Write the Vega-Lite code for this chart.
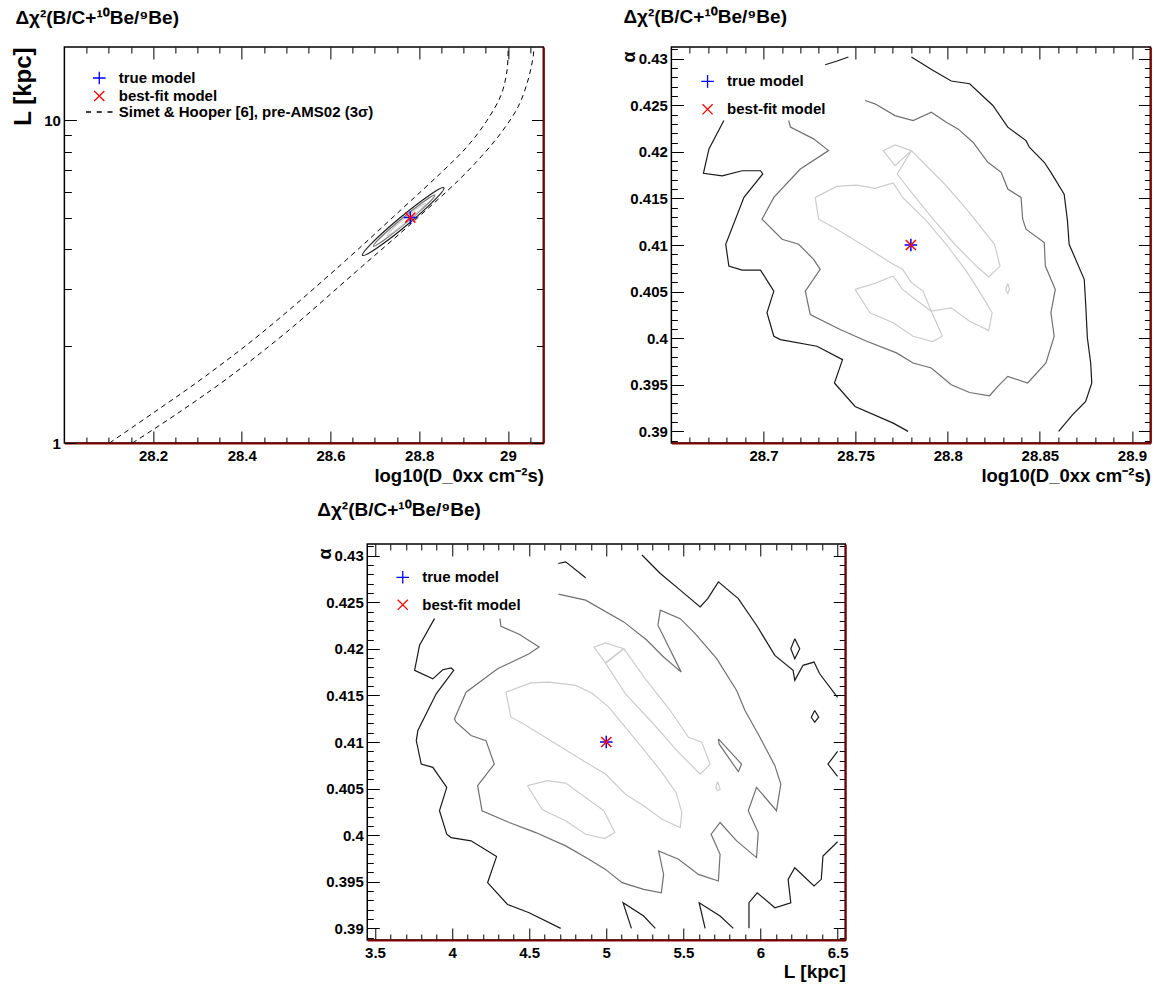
{
"$schema":"https://vega.github.io/schema/vega-lite/v6.json",
"padding":{"left":10,"top":7,"right":0,"bottom":0},
"background":"white",
"spacing":14,
"center":true,
"config":{
 "view":{"stroke":"black","strokeWidth":1.5},
 "axis":{"grid":false,"domain":false,"labelFont":"Liberation Sans","labelFontWeight":"bold","labelFontSize":15,"labelColor":"black","titleFont":"Liberation Sans","titleFontWeight":"bold","titleColor":"black","tickColor":"black","tickWidth":1,"labelOverlap":false,"labelFlush":false,"labelBound":false},
 "legend":{"labelFont":"Liberation Sans","labelFontWeight":"bold","labelFontSize":15,"labelColor":"black","labelLimit":0},
 "title":{"font":"Liberation Sans","fontWeight":"bold","fontSize":19,"color":"black","anchor":"start","frame":"group","baseline":"bottom","offset":19}
},
"datasets":{
"p1m":[{"m":"true model","x":28.78,"y":5},{"m":"best-fit model","x":28.78,"y":5}],
"p2m":[{"m":"true model","x":28.78,"y":0.41},{"m":"best-fit model","x":28.78,"y":0.41}],
"p3m":[{"m":"true model","x":5,"y":0.41},{"m":"best-fit model","x":5,"y":0.41}],
"p1c":[
{"g":"o","lev":"outer","i":1,"x":28.8559,"y":6.186},{"g":"o","lev":"outer","i":2,"x":28.834,"y":5.652},{"g":"o","lev":"outer","i":3,"x":28.7712,"y":4.727},{"g":"o","lev":"outer","i":4,"x":28.7041,"y":4.019},{"g":"o","lev":"outer","i":5,"x":28.6721,"y":3.818},{"g":"o","lev":"outer","i":6,"x":28.6939,"y":4.176},{"g":"o","lev":"outer","i":7,"x":28.7568,"y":4.994},{"g":"o","lev":"outer","i":8,"x":28.8239,"y":5.878},
{"g":"m","lev":"middle","i":1,"x":28.8356,"y":5.873},{"g":"m","lev":"middle","i":2,"x":28.8185,"y":5.506},{"g":"m","lev":"middle","i":3,"x":28.7705,"y":4.815},{"g":"m","lev":"middle","i":4,"x":28.7203,"y":4.254},{"g":"m","lev":"middle","i":5,"x":28.6968,"y":4.078},{"g":"m","lev":"middle","i":6,"x":28.714,"y":4.352},{"g":"m","lev":"middle","i":7,"x":28.7619,"y":4.976},{"g":"m","lev":"middle","i":8,"x":28.8122,"y":5.632},
{"g":"l","lev":"inner","i":1,"x":28.8142,"y":5.526},{"g":"l","lev":"inner","i":2,"x":28.8034,"y":5.303},{"g":"l","lev":"inner","i":3,"x":28.7736,"y":4.878},{"g":"l","lev":"inner","i":4,"x":28.7421,"y":4.513},{"g":"l","lev":"inner","i":5,"x":28.7275,"y":4.399},{"g":"l","lev":"inner","i":6,"x":28.7381,"y":4.584},{"g":"l","lev":"inner","i":7,"x":28.7678,"y":4.983},{"g":"l","lev":"inner","i":8,"x":28.7993,"y":5.387}
],
"p1d":[
{"g":"d1","i":1,"x":28.1018,"y":1.0},{"g":"d1","i":2,"x":28.1964,"y":1.229},{"g":"d1","i":3,"x":28.309,"y":1.578},{"g":"d1","i":4,"x":28.4441,"y":2.189},{"g":"d1","i":5,"x":28.6243,"y":3.579},{"g":"d1","i":6,"x":28.7595,"y":5.294},{"g":"d1","i":7,"x":28.8495,"y":6.891},{"g":"d1","i":8,"x":28.9059,"y":8.234},{"g":"d1","i":9,"x":28.9509,"y":9.908},{"g":"d1","i":10,"x":28.9847,"y":12.01},{"g":"d1","i":11,"x":28.9982,"y":14.35},{"g":"d1","i":12,"x":29.0005,"y":16.9},
{"g":"d2","i":1,"x":28.1536,"y":1.0},{"g":"d2","i":2,"x":28.2527,"y":1.229},{"g":"d2","i":3,"x":28.3653,"y":1.578},{"g":"d2","i":4,"x":28.5005,"y":2.205},{"g":"d2","i":5,"x":28.6581,"y":3.404},{"g":"d2","i":6,"x":28.782,"y":4.792},{"g":"d2","i":7,"x":28.8901,"y":6.555},{"g":"d2","i":8,"x":28.9396,"y":7.72},{"g":"d2","i":9,"x":28.9847,"y":9.16},{"g":"d2","i":10,"x":29.023,"y":11.03},{"g":"d2","i":11,"x":29.0455,"y":13.36},{"g":"d2","i":12,"x":29.0568,"y":15.74},{"g":"d2","i":13,"x":29.059,"y":16.9}
],
"p2c":[
{"g":"b1","lev":"outer","i":1,"x":28.6785,"y":0.42336},{"g":"b1","lev":"outer","i":2,"x":28.6704,"y":0.42031},{"g":"b1","lev":"outer","i":3,"x":28.6674,"y":0.41769},{"g":"b1","lev":"outer","i":4,"x":28.6776,"y":0.41743},{"g":"b1","lev":"outer","i":5,"x":28.6884,"y":0.41797},{"g":"b1","lev":"outer","i":6,"x":28.6984,"y":0.41797},{"g":"b1","lev":"outer","i":7,"x":28.6996,"y":0.41762},{"g":"b1","lev":"outer","i":8,"x":28.6894,"y":0.41511},{"g":"b1","lev":"outer","i":9,"x":28.6795,"y":0.41008},{"g":"b1","lev":"outer","i":10,"x":28.6812,"y":0.40774},{"g":"b1","lev":"outer","i":11,"x":28.6884,"y":0.40731},{"g":"b1","lev":"outer","i":12,"x":28.6984,"y":0.40731},{"g":"b1","lev":"outer","i":13,"x":28.7056,"y":0.40505},{"g":"b1","lev":"outer","i":14,"x":28.7019,"y":0.40273},{"g":"b1","lev":"outer","i":15,"x":28.7056,"y":0.40021},{"g":"b1","lev":"outer","i":16,"x":28.7092,"y":0.39985},{"g":"b1","lev":"outer","i":17,"x":28.729,"y":0.39913},{"g":"b1","lev":"outer","i":18,"x":28.7429,"y":0.3977},{"g":"b1","lev":"outer","i":19,"x":28.7385,"y":0.39519},{"g":"b1","lev":"outer","i":20,"x":28.7497,"y":0.39267},{"g":"b1","lev":"outer","i":21,"x":28.7704,"y":0.39088},{"g":"b1","lev":"outer","i":22,"x":28.7785,"y":0.39},
{"g":"b2","lev":"outer","i":1,"x":28.7335,"y":0.42935},{"g":"b2","lev":"outer","i":2,"x":28.74,"y":0.42975},{"g":"b2","lev":"outer","i":3,"x":28.7461,"y":0.43018},
{"g":"b3","lev":"outer","i":1,"x":28.7803,"y":0.43018},{"g":"b3","lev":"outer","i":2,"x":28.7921,"y":0.42874},{"g":"b3","lev":"outer","i":3,"x":28.8019,"y":0.4276},{"g":"b3","lev":"outer","i":4,"x":28.8119,"y":0.42731},{"g":"b3","lev":"outer","i":5,"x":28.8245,"y":0.42497},{"g":"b3","lev":"outer","i":6,"x":28.8326,"y":0.42265},{"g":"b3","lev":"outer","i":7,"x":28.8425,"y":0.4212},{"g":"b3","lev":"outer","i":8,"x":28.8443,"y":0.42049},{"g":"b3","lev":"outer","i":9,"x":28.8524,"y":0.41888},{"g":"b3","lev":"outer","i":10,"x":28.856,"y":0.4178},{"g":"b3","lev":"outer","i":11,"x":28.8632,"y":0.41546},{"g":"b3","lev":"outer","i":12,"x":28.865,"y":0.41259},{"g":"b3","lev":"outer","i":13,"x":28.8659,"y":0.41008},{"g":"b3","lev":"outer","i":14,"x":28.8741,"y":0.40631},{"g":"b3","lev":"outer","i":15,"x":28.8749,"y":0.40362},{"g":"b3","lev":"outer","i":16,"x":28.8758,"y":0.40003},{"g":"b3","lev":"outer","i":17,"x":28.8776,"y":0.39734},{"g":"b3","lev":"outer","i":18,"x":28.8782,"y":0.39519},{"g":"b3","lev":"outer","i":19,"x":28.8749,"y":0.39321},{"g":"b3","lev":"outer","i":20,"x":28.8677,"y":0.39177},{"g":"b3","lev":"outer","i":21,"x":28.8602,"y":0.39},
{"g":"m1","lev":"middle","i":1,"x":28.7137,"y":0.42336},{"g":"m1","lev":"middle","i":2,"x":28.7146,"y":0.42265},{"g":"m1","lev":"middle","i":3,"x":28.7272,"y":0.42139},{"g":"m1","lev":"middle","i":4,"x":28.7353,"y":0.42013},{"g":"m1","lev":"middle","i":5,"x":28.72,"y":0.41816},{"g":"m1","lev":"middle","i":6,"x":28.7056,"y":0.41511},{"g":"m1","lev":"middle","i":7,"x":28.6992,"y":0.41277},{"g":"m1","lev":"middle","i":8,"x":28.7101,"y":0.41062},{"g":"m1","lev":"middle","i":9,"x":28.7191,"y":0.41008},{"g":"m1","lev":"middle","i":10,"x":28.7272,"y":0.40846},{"g":"m1","lev":"middle","i":11,"x":28.7308,"y":0.40739},{"g":"m1","lev":"middle","i":12,"x":28.7227,"y":0.40505},{"g":"m1","lev":"middle","i":13,"x":28.7254,"y":0.40254},{"g":"m1","lev":"middle","i":14,"x":28.7416,"y":0.40093},{"g":"m1","lev":"middle","i":15,"x":28.756,"y":0.39967},{"g":"m1","lev":"middle","i":16,"x":28.7722,"y":0.39842},{"g":"m1","lev":"middle","i":17,"x":28.7812,"y":0.39734},{"g":"m1","lev":"middle","i":18,"x":28.7911,"y":0.3968},{"g":"m1","lev":"middle","i":19,"x":28.8019,"y":0.395},{"g":"m1","lev":"middle","i":20,"x":28.8119,"y":0.39417},{"g":"m1","lev":"middle","i":21,"x":28.8227,"y":0.39382},{"g":"m1","lev":"middle","i":22,"x":28.8272,"y":0.39482},{"g":"m1","lev":"middle","i":23,"x":28.8326,"y":0.3959},{"g":"m1","lev":"middle","i":24,"x":28.8434,"y":0.39519},{"g":"m1","lev":"middle","i":25,"x":28.8533,"y":0.39734},{"g":"m1","lev":"middle","i":26,"x":28.8578,"y":0.40021},{"g":"m1","lev":"middle","i":27,"x":28.856,"y":0.40273},{"g":"m1","lev":"middle","i":28,"x":28.8584,"y":0.40523},{"g":"m1","lev":"middle","i":29,"x":28.853,"y":0.40774},{"g":"m1","lev":"middle","i":30,"x":28.8524,"y":0.41026},{"g":"m1","lev":"middle","i":31,"x":28.8425,"y":0.41169},{"g":"m1","lev":"middle","i":32,"x":28.8407,"y":0.41277},{"g":"m1","lev":"middle","i":33,"x":28.8398,"y":0.41511},{"g":"m1","lev":"middle","i":34,"x":28.8326,"y":0.416},{"g":"m1","lev":"middle","i":35,"x":28.829,"y":0.4178},{"g":"m1","lev":"middle","i":36,"x":28.8218,"y":0.41888},{"g":"m1","lev":"middle","i":37,"x":28.8137,"y":0.42103},{"g":"m1","lev":"middle","i":38,"x":28.8056,"y":0.42246},{"g":"m1","lev":"middle","i":39,"x":28.7992,"y":0.42318},{"g":"m1","lev":"middle","i":40,"x":28.7911,"y":0.42426},{"g":"m1","lev":"middle","i":41,"x":28.7812,"y":0.42336},{"g":"m1","lev":"middle","i":42,"x":28.7714,"y":0.42389},{"g":"m1","lev":"middle","i":43,"x":28.7605,"y":0.42515},{"g":"m1","lev":"middle","i":44,"x":28.7551,"y":0.42551},
{"g":"l1","lev":"inner","i":1,"x":28.7803,"y":0.42013},{"g":"l1","lev":"inner","i":2,"x":28.7726,"y":0.41762},{"g":"l1","lev":"inner","i":3,"x":28.7803,"y":0.41565},{"g":"l1","lev":"inner","i":4,"x":28.7921,"y":0.41277},{"g":"l1","lev":"inner","i":5,"x":28.8038,"y":0.41008},{"g":"l1","lev":"inner","i":6,"x":28.8155,"y":0.40774},{"g":"l1","lev":"inner","i":7,"x":28.8223,"y":0.40656},{"g":"l1","lev":"inner","i":8,"x":28.8284,"y":0.40774},{"g":"l1","lev":"inner","i":9,"x":28.8254,"y":0.41008},{"g":"l1","lev":"inner","i":10,"x":28.811,"y":0.41367},{"g":"l1","lev":"inner","i":11,"x":28.7992,"y":0.41636},{"g":"l1","lev":"inner","i":12,"x":28.7884,"y":0.41851},{"g":"l1","lev":"inner","i":13,"x":28.7803,"y":0.42013},
{"g":"l2","lev":"inner","i":1,"x":28.7803,"y":0.42013},{"g":"l2","lev":"inner","i":2,"x":28.7714,"y":0.42074},{"g":"l2","lev":"inner","i":3,"x":28.765,"y":0.42013},{"g":"l2","lev":"inner","i":4,"x":28.7714,"y":0.41851},{"g":"l2","lev":"inner","i":5,"x":28.7803,"y":0.42013},
{"g":"l3","lev":"inner","i":1,"x":28.7281,"y":0.41511},{"g":"l3","lev":"inner","i":2,"x":28.7398,"y":0.41629},{"g":"l3","lev":"inner","i":3,"x":28.7506,"y":0.41643},{"g":"l3","lev":"inner","i":4,"x":28.7605,"y":0.41608},{"g":"l3","lev":"inner","i":5,"x":28.7704,"y":0.41665},{"g":"l3","lev":"inner","i":6,"x":28.7755,"y":0.41511},{"g":"l3","lev":"inner","i":7,"x":28.7884,"y":0.41259},{"g":"l3","lev":"inner","i":8,"x":28.7992,"y":0.41008},{"g":"l3","lev":"inner","i":9,"x":28.8101,"y":0.4072},{"g":"l3","lev":"inner","i":10,"x":28.8182,"y":0.4047},{"g":"l3","lev":"inner","i":11,"x":28.8241,"y":0.40273},{"g":"l3","lev":"inner","i":12,"x":28.8223,"y":0.40082},{"g":"l3","lev":"inner","i":13,"x":28.8119,"y":0.40182},{"g":"l3","lev":"inner","i":14,"x":28.8019,"y":0.40326},{"g":"l3","lev":"inner","i":15,"x":28.7911,"y":0.4029},{"g":"l3","lev":"inner","i":16,"x":28.7866,"y":0.40505},{"g":"l3","lev":"inner","i":17,"x":28.7803,"y":0.40596},{"g":"l3","lev":"inner","i":18,"x":28.7755,"y":0.40739},{"g":"l3","lev":"inner","i":19,"x":28.7704,"y":0.40793},{"g":"l3","lev":"inner","i":20,"x":28.756,"y":0.40972},{"g":"l3","lev":"inner","i":21,"x":28.7398,"y":0.41169},{"g":"l3","lev":"inner","i":22,"x":28.7299,"y":0.41277},{"g":"l3","lev":"inner","i":23,"x":28.7281,"y":0.41511},
{"g":"l4","lev":"inner","i":1,"x":28.7497,"y":0.40523},{"g":"l4","lev":"inner","i":2,"x":28.7605,"y":0.40588},{"g":"l4","lev":"inner","i":3,"x":28.7704,"y":0.40667},{"g":"l4","lev":"inner","i":4,"x":28.7755,"y":0.40523},{"g":"l4","lev":"inner","i":5,"x":28.7812,"y":0.40434},{"g":"l4","lev":"inner","i":6,"x":28.7911,"y":0.4029},{"g":"l4","lev":"inner","i":7,"x":28.7971,"y":0.40021},{"g":"l4","lev":"inner","i":8,"x":28.7917,"y":0.39963},{"g":"l4","lev":"inner","i":9,"x":28.7812,"y":0.40021},{"g":"l4","lev":"inner","i":10,"x":28.7704,"y":0.40165},{"g":"l4","lev":"inner","i":11,"x":28.7578,"y":0.40273},{"g":"l4","lev":"inner","i":12,"x":28.7497,"y":0.40523},
{"g":"l5","lev":"inner","i":1,"x":28.8326,"y":0.40588},{"g":"l5","lev":"inner","i":2,"x":28.8335,"y":0.40523},{"g":"l5","lev":"inner","i":3,"x":28.8326,"y":0.4048},{"g":"l5","lev":"inner","i":4,"x":28.8314,"y":0.40523},{"g":"l5","lev":"inner","i":5,"x":28.8326,"y":0.40588}
],
"p3c":[
{"g":"a","lev":"outer","i":1,"x":3.886,"y":0.42324},{"g":"a","lev":"outer","i":2,"x":3.7891,"y":0.42038},{"g":"a","lev":"outer","i":3,"x":3.7568,"y":0.41769},{"g":"a","lev":"outer","i":4,"x":3.8751,"y":0.41678},{"g":"a","lev":"outer","i":5,"x":3.9397,"y":0.41775},{"g":"a","lev":"outer","i":6,"x":3.9939,"y":0.41794},{"g":"a","lev":"outer","i":7,"x":4.0107,"y":0.41769},{"g":"a","lev":"outer","i":8,"x":3.897,"y":0.41517},{"g":"a","lev":"outer","i":9,"x":3.7782,"y":0.41123},{"g":"a","lev":"outer","i":10,"x":3.7678,"y":0.41015},{"g":"a","lev":"outer","i":11,"x":3.8001,"y":0.40763},{"g":"a","lev":"outer","i":12,"x":3.8751,"y":0.40728},{"g":"a","lev":"outer","i":13,"x":3.9655,"y":0.40513},{"g":"a","lev":"outer","i":14,"x":3.9183,"y":0.40262},{"g":"a","lev":"outer","i":15,"x":3.9655,"y":0.4001},{"g":"a","lev":"outer","i":16,"x":3.9939,"y":0.39974},{"g":"a","lev":"outer","i":17,"x":4.1231,"y":0.39939},{"g":"a","lev":"outer","i":18,"x":4.2885,"y":0.3977},{"g":"a","lev":"outer","i":19,"x":4.2304,"y":0.3949},{"g":"a","lev":"outer","i":20,"x":4.3596,"y":0.39256},{"g":"a","lev":"outer","i":21,"x":4.4997,"y":0.39167},{"g":"a","lev":"outer","i":22,"x":4.7045,"y":0.39},
{"g":"b","lev":"outer","i":1,"x":4.689,"y":0.42916},{"g":"b","lev":"outer","i":2,"x":4.7368,"y":0.42934},{"g":"b","lev":"outer","i":3,"x":4.866,"y":0.42762},
{"g":"c","lev":"outer","i":1,"x":5.2316,"y":0.43007},{"g":"c","lev":"outer","i":2,"x":5.3505,"y":0.42809},{"g":"c","lev":"outer","i":3,"x":5.4797,"y":0.4263},{"g":"c","lev":"outer","i":4,"x":5.6089,"y":0.4245},{"g":"c","lev":"outer","i":5,"x":5.658,"y":0.42539},{"g":"c","lev":"outer","i":6,"x":5.7271,"y":0.42719},{"g":"c","lev":"outer","i":7,"x":5.8563,"y":0.42539},{"g":"c","lev":"outer","i":8,"x":5.9745,"y":0.42253},{"g":"c","lev":"outer","i":9,"x":6.0934,"y":0.4193},{"g":"c","lev":"outer","i":10,"x":6.2116,"y":0.41769},{"g":"c","lev":"outer","i":11,"x":6.2226,"y":0.41661},{"g":"c","lev":"outer","i":12,"x":6.2762,"y":0.41823},{"g":"c","lev":"outer","i":13,"x":6.3473,"y":0.41858},{"g":"c","lev":"outer","i":14,"x":6.3841,"y":0.41732},{"g":"c","lev":"outer","i":15,"x":6.5,"y":0.4148},
{"g":"d","lev":"outer","i":1,"x":6.5,"y":0.409},{"g":"d","lev":"outer","i":2,"x":6.4377,"y":0.40763},{"g":"d","lev":"outer","i":3,"x":6.5,"y":0.4063},
{"g":"e","lev":"outer","i":1,"x":6.5,"y":0.3993},{"g":"e","lev":"outer","i":2,"x":6.4054,"y":0.39777},{"g":"e","lev":"outer","i":3,"x":6.3945,"y":0.39526},{"g":"e","lev":"outer","i":4,"x":6.3473,"y":0.39455},{"g":"e","lev":"outer","i":5,"x":6.2226,"y":0.39651},{"g":"e","lev":"outer","i":6,"x":6.1793,"y":0.39526},{"g":"e","lev":"outer","i":7,"x":6.1968,"y":0.39275},{"g":"e","lev":"outer","i":8,"x":6.0934,"y":0.39221},{"g":"e","lev":"outer","i":9,"x":5.9791,"y":0.39382},{"g":"e","lev":"outer","i":10,"x":5.9254,"y":0.39275},{"g":"e","lev":"outer","i":11,"x":5.9254,"y":0.39},
{"g":"f","lev":"outer","i":1,"x":6.2226,"y":0.42109},{"g":"f","lev":"outer","i":2,"x":6.2549,"y":0.42001},{"g":"f","lev":"outer","i":3,"x":6.2226,"y":0.41894},{"g":"f","lev":"outer","i":4,"x":6.1968,"y":0.42001},{"g":"f","lev":"outer","i":5,"x":6.2226,"y":0.42109},
{"g":"h","lev":"outer","i":1,"x":6.3518,"y":0.41338},{"g":"h","lev":"outer","i":2,"x":6.3777,"y":0.41266},{"g":"h","lev":"outer","i":3,"x":6.3518,"y":0.41212},{"g":"h","lev":"outer","i":4,"x":6.3298,"y":0.41266},{"g":"h","lev":"outer","i":5,"x":6.3518,"y":0.41338},
{"g":"j","lev":"outer","i":1,"x":5.1632,"y":0.39},{"g":"j","lev":"outer","i":2,"x":5.1089,"y":0.39275},{"g":"j","lev":"outer","i":3,"x":5.2426,"y":0.39132},{"g":"j","lev":"outer","i":4,"x":5.3182,"y":0.39},
{"g":"k","lev":"outer","i":1,"x":5.6412,"y":0.39},{"g":"k","lev":"outer","i":2,"x":5.6024,"y":0.39275},{"g":"k","lev":"outer","i":3,"x":5.7381,"y":0.39132},{"g":"k","lev":"outer","i":4,"x":5.824,"y":0.39},
{"g":"m","lev":"middle","i":1,"x":4.689,"y":0.42587},{"g":"m","lev":"middle","i":2,"x":4.866,"y":0.42522},{"g":"m","lev":"middle","i":3,"x":5.1134,"y":0.42289},{"g":"m","lev":"middle","i":4,"x":5.264,"y":0.42092},{"g":"m","lev":"middle","i":5,"x":5.3718,"y":0.41912},{"g":"m","lev":"middle","i":6,"x":5.4862,"y":0.4175},{"g":"m","lev":"middle","i":7,"x":5.335,"y":0.42253},{"g":"m","lev":"middle","i":8,"x":5.3505,"y":0.42415},{"g":"m","lev":"middle","i":9,"x":5.4797,"y":0.42324},{"g":"m","lev":"middle","i":10,"x":5.5766,"y":0.42163},{"g":"m","lev":"middle","i":11,"x":5.7162,"y":0.41894},{"g":"m","lev":"middle","i":12,"x":5.8454,"y":0.41553},{"g":"m","lev":"middle","i":13,"x":5.8996,"y":0.41338},{"g":"m","lev":"middle","i":14,"x":5.9965,"y":0.41051},{"g":"m","lev":"middle","i":15,"x":6.0934,"y":0.40746},{"g":"m","lev":"middle","i":16,"x":6.1322,"y":0.40548},{"g":"m","lev":"middle","i":17,"x":6.1038,"y":0.40262},{"g":"m","lev":"middle","i":18,"x":5.9745,"y":0.40513},{"g":"m","lev":"middle","i":19,"x":5.9209,"y":0.40262},{"g":"m","lev":"middle","i":20,"x":5.9855,"y":0.40028},{"g":"m","lev":"middle","i":21,"x":5.9745,"y":0.39759},{"g":"m","lev":"middle","i":22,"x":5.8454,"y":0.39939},{"g":"m","lev":"middle","i":23,"x":5.7381,"y":0.40136},{"g":"m","lev":"middle","i":24,"x":5.68,"y":0.4001},{"g":"m","lev":"middle","i":25,"x":5.7381,"y":0.39795},{"g":"m","lev":"middle","i":26,"x":5.7271,"y":0.39508},{"g":"m","lev":"middle","i":27,"x":5.5979,"y":0.39579},{"g":"m","lev":"middle","i":28,"x":5.4687,"y":0.39741},{"g":"m","lev":"middle","i":29,"x":5.3395,"y":0.39831},{"g":"m","lev":"middle","i":30,"x":5.3718,"y":0.39579},{"g":"m","lev":"middle","i":31,"x":5.357,"y":0.39382},{"g":"m","lev":"middle","i":32,"x":5.2426,"y":0.39418},{"g":"m","lev":"middle","i":33,"x":5.1024,"y":0.3949},{"g":"m","lev":"middle","i":34,"x":4.9952,"y":0.39633},{"g":"m","lev":"middle","i":35,"x":4.8873,"y":0.39741},{"g":"m","lev":"middle","i":36,"x":4.7368,"y":0.39885},{"g":"m","lev":"middle","i":37,"x":4.543,"y":0.40028},{"g":"m","lev":"middle","i":38,"x":4.3705,"y":0.40136},{"g":"m","lev":"middle","i":39,"x":4.1942,"y":0.40262},{"g":"m","lev":"middle","i":40,"x":4.1658,"y":0.40531},{"g":"m","lev":"middle","i":41,"x":4.2736,"y":0.40763},{"g":"m","lev":"middle","i":42,"x":4.22,"y":0.41015},{"g":"m","lev":"middle","i":43,"x":4.1231,"y":0.41069},{"g":"m","lev":"middle","i":44,"x":4.0262,"y":0.41212},{"g":"m","lev":"middle","i":45,"x":4.0152,"y":0.41248},{"g":"m","lev":"middle","i":46,"x":4.0908,"y":0.41535},{"g":"m","lev":"middle","i":47,"x":4.295,"y":0.41786},{"g":"m","lev":"middle","i":48,"x":4.4997,"y":0.41947},{"g":"m","lev":"middle","i":49,"x":4.5643,"y":0.4202},{"g":"m","lev":"middle","i":50,"x":4.4351,"y":0.42156},{"g":"m","lev":"middle","i":51,"x":4.3169,"y":0.42242},{"g":"m","lev":"middle","i":52,"x":4.3105,"y":0.42324},
{"g":"s","lev":"middle","i":1,"x":5.7271,"y":0.41033},{"g":"s","lev":"middle","i":2,"x":5.8776,"y":0.40763},{"g":"s","lev":"middle","i":3,"x":5.8563,"y":0.40682},{"g":"s","lev":"middle","i":4,"x":5.7316,"y":0.40979},{"g":"s","lev":"middle","i":5,"x":5.7271,"y":0.41033},
{"g":"q","lev":"inner","i":1,"x":4.9196,"y":0.4202},{"g":"q","lev":"inner","i":2,"x":4.9952,"y":0.42063},{"g":"q","lev":"inner","i":3,"x":5.1134,"y":0.42001},{"g":"q","lev":"inner","i":4,"x":4.9952,"y":0.41847},{"g":"q","lev":"inner","i":5,"x":4.9196,"y":0.4202},
{"g":"r","lev":"inner","i":1,"x":4.9952,"y":0.41847},{"g":"r","lev":"inner","i":2,"x":5.1134,"y":0.42001},{"g":"r","lev":"inner","i":3,"x":5.2536,"y":0.41678},{"g":"r","lev":"inner","i":4,"x":5.4151,"y":0.41338},{"g":"r","lev":"inner","i":5,"x":5.5333,"y":0.41051},{"g":"r","lev":"inner","i":6,"x":5.6192,"y":0.40997},{"g":"r","lev":"inner","i":7,"x":5.6735,"y":0.40763},{"g":"r","lev":"inner","i":8,"x":5.6089,"y":0.40656},{"g":"r","lev":"inner","i":9,"x":5.4687,"y":0.40889},{"g":"r","lev":"inner","i":10,"x":5.2962,"y":0.41212},{"g":"r","lev":"inner","i":11,"x":5.1244,"y":0.41517},{"g":"r","lev":"inner","i":12,"x":4.9952,"y":0.41847},
{"g":"t","lev":"inner","i":1,"x":4.3492,"y":0.41535},{"g":"t","lev":"inner","i":2,"x":4.5107,"y":0.41635},{"g":"t","lev":"inner","i":3,"x":4.6289,"y":0.41643},{"g":"t","lev":"inner","i":4,"x":4.8014,"y":0.41607},{"g":"t","lev":"inner","i":5,"x":4.9087,"y":0.41524},{"g":"t","lev":"inner","i":6,"x":5.0165,"y":0.41374},{"g":"t","lev":"inner","i":7,"x":5.1244,"y":0.41158},{"g":"t","lev":"inner","i":8,"x":5.2316,"y":0.40943},{"g":"t","lev":"inner","i":9,"x":5.3609,"y":0.40674},{"g":"t","lev":"inner","i":10,"x":5.4526,"y":0.40459},{"g":"t","lev":"inner","i":11,"x":5.49,"y":0.40243},{"g":"t","lev":"inner","i":12,"x":5.4797,"y":0.40082},{"g":"t","lev":"inner","i":13,"x":5.3609,"y":0.40171},{"g":"t","lev":"inner","i":14,"x":5.2426,"y":0.40316},{"g":"t","lev":"inner","i":15,"x":5.1244,"y":0.4044},{"g":"t","lev":"inner","i":16,"x":4.9952,"y":0.40656},{"g":"t","lev":"inner","i":17,"x":4.866,"y":0.40782},{"g":"t","lev":"inner","i":18,"x":4.6935,"y":0.40961},{"g":"t","lev":"inner","i":19,"x":4.4461,"y":0.41212},{"g":"t","lev":"inner","i":20,"x":4.3815,"y":0.41266},{"g":"t","lev":"inner","i":21,"x":4.3492,"y":0.41535},
{"g":"u","lev":"inner","i":1,"x":4.4888,"y":0.40531},{"g":"u","lev":"inner","i":2,"x":4.618,"y":0.40585},{"g":"u","lev":"inner","i":3,"x":4.7368,"y":0.40559},{"g":"u","lev":"inner","i":4,"x":4.866,"y":0.40405},{"g":"u","lev":"inner","i":5,"x":4.9842,"y":0.40262},{"g":"u","lev":"inner","i":6,"x":5.0553,"y":0.40028},{"g":"u","lev":"inner","i":7,"x":4.9907,"y":0.39964},{"g":"u","lev":"inner","i":8,"x":4.866,"y":0.4001},{"g":"u","lev":"inner","i":9,"x":4.7368,"y":0.40154},{"g":"u","lev":"inner","i":10,"x":4.5857,"y":0.40273},{"g":"u","lev":"inner","i":11,"x":4.4888,"y":0.40531},
{"g":"v","lev":"inner","i":1,"x":5.7226,"y":0.40574},{"g":"v","lev":"inner","i":2,"x":5.7381,"y":0.40494},{"g":"v","lev":"inner","i":3,"x":5.7226,"y":0.40477},{"g":"v","lev":"inner","i":4,"x":5.7097,"y":0.40513},{"g":"v","lev":"inner","i":5,"x":5.7226,"y":0.40574}
]
},
"resolve":{"scale":{"color":"independent","shape":"independent","stroke":"independent"},"legend":{"color":"independent","shape":"independent"}},
"vconcat":[
{"hconcat":[
{
 "width":479,"height":396,
 "title":{"text":"Δχ²(B/C+¹⁰Be/⁹Be)","dx":-49},
 "layer":[
  {"data":{"name":"p1d"},"mark":{"type":"line","strokeDash":[5,4],"strokeWidth":1,"color":"black","clip":true,"interpolate":"catmull-rom"},
   "encoding":{
    "x":{"field":"x","type":"quantitative","scale":{"domain":[28.0,29.08],"nice":false,"zero":false},"axis":{"orient":"bottom","values":[28.05,28.1,28.15,28.2,28.25,28.3,28.35,28.4,28.45,28.5,28.55,28.6,28.65,28.7,28.75,28.8,28.85,28.9,28.95,29,29.05],"tickSize":{"condition":{"test":"abs(datum.value*5-round(datum.value*5))<0.001","value":-12},"value":-6},"labelExpr":"abs(datum.value*5-round(datum.value*5))<0.001 ? format(datum.value,'.1~f') : ''","labelPadding":17,"title":"log10(D_0xx cm⁻²s)","titleFontSize":18.5,"titleAnchor":"end","titleY":38,"titleBaseline":"alphabetic","domain":true,"domainColor":"#800000","domainWidth":2}},
    "y":{"field":"y","type":"quantitative","scale":{"type":"log","domain":[1,16.9],"nice":false,"zero":false},"axis":{"orient":"left","values":[1,2,3,4,5,6,7,8,9,10],"tickSize":{"condition":{"test":"datum.value==1||datum.value==10","value":-12},"value":-7},"labelExpr":"datum.value==1||datum.value==10 ? format(datum.value,'d') : ''","labelPadding":16,"title":"L [kpc]","titleFontSize":24,"titleAnchor":"end","titleX":-41,"titleY":0,"titleBaseline":"middle"}},
    "detail":{"field":"g"},
    "order":{"field":"i"}
   }},
  {"data":{"name":"p1c"},"mark":{"type":"line","strokeWidth":1.2,"clip":true,"interpolate":"cardinal-closed"},
   "encoding":{
    "x":{"field":"x","type":"quantitative","scale":{"domain":[28.0,29.08],"nice":false,"zero":false},"axis":null},
    "y":{"field":"y","type":"quantitative","scale":{"type":"log","domain":[1,16.9],"nice":false,"zero":false},"axis":null},
    "detail":{"field":"g"},
    "order":{"field":"i"},
    "stroke":{"field":"lev","type":"nominal","scale":{"domain":["inner","middle","outer"],"range":["#cccccc","#707070","#1a1a1a"]},"legend":null}
   }},
  {"data":{"name":"p1m"},"mark":{"type":"point","filled":false,"strokeWidth":1.5,"size":160,"opacity":1},
   "encoding":{
    "x":{"field":"x","type":"quantitative","scale":{"domain":[28.0,29.08],"nice":false,"zero":false},"axis":{"orient":"top","values":[28.05,28.1,28.15,28.2,28.25,28.3,28.35,28.4,28.45,28.5,28.55,28.6,28.65,28.7,28.75,28.8,28.85,28.9,28.95,29,29.05],"tickSize":{"condition":{"test":"abs(datum.value*5-round(datum.value*5))<0.001","value":-12},"value":-6},"labels":false,"title":null}},
    "y":{"field":"y","type":"quantitative","scale":{"type":"log","domain":[1,16.9],"nice":false,"zero":false},"axis":{"orient":"right","values":[1,2,3,4,5,6,7,8,9,10],"tickSize":{"condition":{"test":"datum.value==1||datum.value==10","value":-12},"value":-7},"labels":false,"title":null,"domain":true,"domainColor":"#800000","domainWidth":2}},
    "shape":{"field":"m","type":"nominal","scale":{"domain":["true model","best-fit model","Simet & Hooper [6], pre-AMS02 (3σ)"],"range":["M-1,0L1,0M0,-1L0,1","M-0.8,-0.8L0.8,0.8M-0.8,0.8L0.8,-0.8","M-2.1,0L-1.3,0M-0.4,0L0.4,0M1.3,0L2.1,0"]},"legend":{"title":null,"orient":"none","legendX":27.4,"legendY":23.5,"symbolSize":160,"symbolStrokeWidth":1.3,"rowPadding":0,"labelOffset":12,"padding":0}},
    "color":{"field":"m","type":"nominal","scale":{"domain":["true model","best-fit model","Simet & Hooper [6], pre-AMS02 (3σ)"],"range":["#0000ff","#ff0000","#000000"]},"legend":{"title":null,"orient":"none","legendX":27.4,"legendY":23.5,"symbolSize":160,"symbolStrokeWidth":1.3,"rowPadding":0,"labelOffset":12,"padding":0}}
   }}
 ],
 "resolve":{"axis":{"x":"independent","y":"independent"}}
},
{
 "width":479,"height":396,
 "title":{"text":"Δχ²(B/C+¹⁰Be/⁹Be)","dx":-48,"dy":4},
 "layer":[
  {"data":{"name":"p2c"},"mark":{"type":"line","strokeWidth":1.2,"clip":true},
   "encoding":{
    "x":{"field":"x","type":"quantitative","scale":{"domain":[28.65,28.91],"nice":false,"zero":false},"axis":{"orient":"bottom","values":[28.66,28.67,28.68,28.69,28.7,28.71,28.72,28.73,28.74,28.75,28.76,28.77,28.78,28.79,28.8,28.81,28.82,28.83,28.84,28.85,28.86,28.87,28.88,28.89,28.9],"tickSize":{"condition":{"test":"abs(datum.value*20-round(datum.value*20))<0.001","value":-12},"value":-6},"labelExpr":"abs(datum.value*20-round(datum.value*20))<0.001 ? format(datum.value,'.2~f') : ''","labelPadding":17,"title":"log10(D_0xx cm⁻²s)","titleFontSize":18.5,"titleAnchor":"end","titleY":38,"titleBaseline":"alphabetic","domain":true,"domainColor":"#800000","domainWidth":2}},
    "y":{"field":"y","type":"quantitative","scale":{"domain":[0.38875,0.43125],"nice":false,"zero":false},"axis":{"orient":"left","values":[0.389,0.39,0.391,0.392,0.393,0.394,0.395,0.396,0.397,0.398,0.399,0.4,0.401,0.402,0.403,0.404,0.405,0.406,0.407,0.408,0.409,0.41,0.411,0.412,0.413,0.414,0.415,0.416,0.417,0.418,0.419,0.42,0.421,0.422,0.423,0.424,0.425,0.426,0.427,0.428,0.429,0.43,0.431],"tickSize":{"condition":{"test":"abs(datum.value*200-round(datum.value*200))<0.001","value":-12},"value":-6},"labelExpr":"abs(datum.value*200-round(datum.value*200))<0.001 ? format(datum.value,'.3~f') : ''","labelPadding":16,"title":"α","titleFontSize":18,"titleAnchor":"end","titleX":-42,"titleY":4,"titleBaseline":"middle"}},
    "detail":{"field":"g"},
    "order":{"field":"i"},
    "stroke":{"field":"lev","type":"nominal","scale":{"domain":["inner","middle","outer"],"range":["#cccccc","#707070","#1a1a1a"]},"legend":null}
   }},
  {"data":{"name":"p2m"},"mark":{"type":"point","filled":false,"strokeWidth":1.5,"size":160,"opacity":1},
   "encoding":{
    "x":{"field":"x","type":"quantitative","scale":{"domain":[28.65,28.91],"nice":false,"zero":false},"axis":{"orient":"top","values":[28.66,28.67,28.68,28.69,28.7,28.71,28.72,28.73,28.74,28.75,28.76,28.77,28.78,28.79,28.8,28.81,28.82,28.83,28.84,28.85,28.86,28.87,28.88,28.89,28.9],"tickSize":{"condition":{"test":"abs(datum.value*20-round(datum.value*20))<0.001","value":-12},"value":-6},"labels":false,"title":null}},
    "y":{"field":"y","type":"quantitative","scale":{"domain":[0.38875,0.43125],"nice":false,"zero":false},"axis":{"orient":"right","values":[0.389,0.39,0.391,0.392,0.393,0.394,0.395,0.396,0.397,0.398,0.399,0.4,0.401,0.402,0.403,0.404,0.405,0.406,0.407,0.408,0.409,0.41,0.411,0.412,0.413,0.414,0.415,0.416,0.417,0.418,0.419,0.42,0.421,0.422,0.423,0.424,0.425,0.426,0.427,0.428,0.429,0.43,0.431],"tickSize":{"condition":{"test":"abs(datum.value*200-round(datum.value*200))<0.001","value":-12},"value":-6},"labels":false,"title":null,"domain":true,"domainColor":"#800000","domainWidth":2}},
    "shape":{"field":"m","type":"nominal","scale":{"domain":["true model","best-fit model"],"range":["M-1,0L1,0M0,-1L0,1","M-0.8,-0.8L0.8,0.8M-0.8,0.8L0.8,-0.8"]},"legend":{"title":null,"orient":"none","legendX":28.7,"legendY":26.8,"symbolSize":160,"symbolStrokeWidth":1.3,"rowPadding":10,"labelOffset":12,"padding":0}},
    "color":{"field":"m","type":"nominal","scale":{"domain":["true model","best-fit model"],"range":["#0000ff","#ff0000"]},"legend":{"title":null,"orient":"none","legendX":28.7,"legendY":26.8,"symbolSize":160,"symbolStrokeWidth":1.3,"rowPadding":10,"labelOffset":12,"padding":0}}
   }}
 ],
 "resolve":{"axis":{"x":"independent","y":"independent"}}
}
],
"spacing":128,
"bounds":"flush",
"resolve":{"scale":{"color":"independent","shape":"independent","stroke":"independent"},"legend":{"color":"independent","shape":"independent"}}
},
{
 "width":478,"height":396,
 "title":{"text":"Δχ²(B/C+¹⁰Be/⁹Be)","dx":-50},
 "layer":[
  {"data":{"name":"p3c"},"mark":{"type":"line","strokeWidth":1.2,"clip":true},
   "encoding":{
    "x":{"field":"x","type":"quantitative","scale":{"domain":[3.45,6.55],"nice":false,"zero":false},"axis":{"orient":"bottom","values":[3.5,3.6,3.7,3.8,3.9,4,4.1,4.2,4.3,4.4,4.5,4.6,4.7,4.8,4.9,5,5.1,5.2,5.3,5.4,5.5,5.6,5.7,5.8,5.9,6,6.1,6.2,6.3,6.4,6.5],"tickSize":{"condition":{"test":"abs(datum.value*2-round(datum.value*2))<0.001","value":-12},"value":-6},"labelExpr":"abs(datum.value*2-round(datum.value*2))<0.001 ? format(datum.value,'.1~f') : ''","labelPadding":17,"title":"L [kpc]","titleFontSize":19,"titleAnchor":"end","titleY":37,"titleBaseline":"alphabetic","domain":true,"domainColor":"#800000","domainWidth":2}},
    "y":{"field":"y","type":"quantitative","scale":{"domain":[0.38875,0.43125],"nice":false,"zero":false},"axis":{"orient":"left","values":[0.389,0.39,0.391,0.392,0.393,0.394,0.395,0.396,0.397,0.398,0.399,0.4,0.401,0.402,0.403,0.404,0.405,0.406,0.407,0.408,0.409,0.41,0.411,0.412,0.413,0.414,0.415,0.416,0.417,0.418,0.419,0.42,0.421,0.422,0.423,0.424,0.425,0.426,0.427,0.428,0.429,0.43,0.431],"tickSize":{"condition":{"test":"abs(datum.value*200-round(datum.value*200))<0.001","value":-12},"value":-6},"labelExpr":"abs(datum.value*200-round(datum.value*200))<0.001 ? format(datum.value,'.3~f') : ''","labelPadding":16,"title":"α","titleFontSize":18,"titleAnchor":"end","titleX":-42,"titleY":4,"titleBaseline":"middle"}},
    "detail":{"field":"g"},
    "order":{"field":"i"},
    "stroke":{"field":"lev","type":"nominal","scale":{"domain":["inner","middle","outer"],"range":["#cccccc","#707070","#1a1a1a"]},"legend":null}
   }},
  {"data":{"name":"p3m"},"mark":{"type":"point","filled":false,"strokeWidth":1.5,"size":160,"opacity":1},
   "encoding":{
    "x":{"field":"x","type":"quantitative","scale":{"domain":[3.45,6.55],"nice":false,"zero":false},"axis":{"orient":"top","values":[3.5,3.6,3.7,3.8,3.9,4,4.1,4.2,4.3,4.4,4.5,4.6,4.7,4.8,4.9,5,5.1,5.2,5.3,5.4,5.5,5.6,5.7,5.8,5.9,6,6.1,6.2,6.3,6.4,6.5],"tickSize":{"condition":{"test":"abs(datum.value*2-round(datum.value*2))<0.001","value":-12},"value":-6},"labels":false,"title":null}},
    "y":{"field":"y","type":"quantitative","scale":{"domain":[0.38875,0.43125],"nice":false,"zero":false},"axis":{"orient":"right","values":[0.389,0.39,0.391,0.392,0.393,0.394,0.395,0.396,0.397,0.398,0.399,0.4,0.401,0.402,0.403,0.404,0.405,0.406,0.407,0.408,0.409,0.41,0.411,0.412,0.413,0.414,0.415,0.416,0.417,0.418,0.419,0.42,0.421,0.422,0.423,0.424,0.425,0.426,0.427,0.428,0.429,0.43,0.431],"tickSize":{"condition":{"test":"abs(datum.value*200-round(datum.value*200))<0.001","value":-12},"value":-6},"labels":false,"title":null,"domain":true,"domainColor":"#800000","domainWidth":2}},
    "shape":{"field":"m","type":"nominal","scale":{"domain":["true model","best-fit model"],"range":["M-1,0L1,0M0,-1L0,1","M-0.8,-0.8L0.8,0.8M-0.8,0.8L0.8,-0.8"]},"legend":{"title":null,"orient":"none","legendX":28,"legendY":25.8,"symbolSize":160,"symbolStrokeWidth":1.3,"rowPadding":9.5,"labelOffset":12,"padding":0}},
    "color":{"field":"m","type":"nominal","scale":{"domain":["true model","best-fit model"],"range":["#0000ff","#ff0000"]},"legend":{"title":null,"orient":"none","legendX":28,"legendY":25.8,"symbolSize":160,"symbolStrokeWidth":1.3,"rowPadding":9.5,"labelOffset":12,"padding":0}}
   }}
 ],
 "resolve":{"axis":{"x":"independent","y":"independent"}}
}
]
}
